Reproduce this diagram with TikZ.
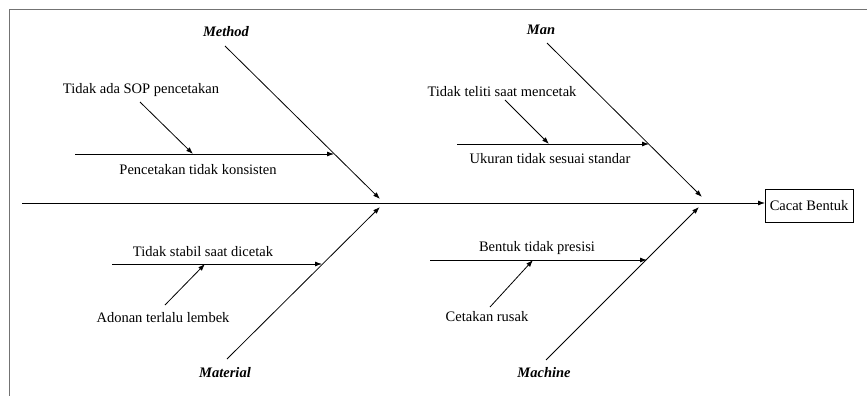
\documentclass[tikz,border=0pt]{standalone}
\usepackage{fontspec}
\setmainfont{Liberation Serif}
\usetikzlibrary{arrows.meta}
\begin{document}
\begin{tikzpicture}[x=1pt,y=-1pt,
  txt/.style={font=\fontsize{14.5}{16}\selectfont, inner sep=0pt, anchor=center},
  cat/.style={font=\fontsize{14.5}{16}\selectfont\bfseries\itshape, inner sep=0pt, anchor=center},
  ln/.style={line width=0.8pt},
  arr/.style={line width=0.8pt, -{Latex[length=7pt,width=5pt]}},
  frame/.style={line width=1.3pt, draw=black!55}]
\useasboundingbox (0,0) rectangle (867,396);
% frame
\draw[frame] (867,9.5) -- (9.5,9.5) -- (9.5,396);
% effect
\node[draw, line width=0.8pt, minimum width=88pt, minimum height=33pt, txt] (eff) at (809,206) {Cacat Bentuk};
\coordinate (sp0) at (22,203);
\coordinate (sp1) at (765,203);
\draw[arr] (sp0) -- (sp1);
% categories
\node[cat] (method) at (226,32) {Method};
\node[cat] (man) at (541,30) {Man};
\node[cat] (material) at (225,373) {Material};
\node[cat] (machine) at (544,373) {Machine};
\coordinate (me0) at (225,46); \coordinate (me1) at (380,199);
\coordinate (ma0) at (547,43); \coordinate (ma1) at (702,197);
\coordinate (mt0) at (227,359); \coordinate (mt1) at (380,207);
\coordinate (mc0) at (546,360); \coordinate (mc1) at (699,207);
\draw[arr] (me0) -- (me1);
\draw[arr] (ma0) -- (ma1);
\draw[arr] (mt0) -- (mt1);
\draw[arr] (mc0) -- (mc1);
% Method sub
\coordinate (p0) at (75,154); \coordinate (p1) at (334,154);
\draw[arr] (p0) -- (p1);
\node[txt] (pk) at (198,170) {Pencetakan tidak konsisten};
\node[txt] (sop) at (141,90) {Tidak ada SOP pencetakan};
\coordinate (s0) at (140,102); \coordinate (s1) at (193,154);
\draw[arr] (s0) -- (s1);
% Man sub
\coordinate (u0) at (457,144); \coordinate (u1) at (649,144);
\draw[arr] (u0) -- (u1);
\node[txt] (uk) at (550,159) {Ukuran tidak sesuai standar};
\node[txt] (tt) at (502,92) {Tidak teliti saat mencetak};
\coordinate (t0) at (505,100); \coordinate (t1) at (549,144);
\draw[arr] (t0) -- (t1);
% Material sub
\coordinate (ts0) at (112,264); \coordinate (ts1) at (322,264);
\draw[arr] (ts0) -- (ts1);
\node[txt] (tsl) at (203,252) {Tidak stabil saat dicetak};
\node[txt] (ad) at (163,318) {Adonan terlalu lembek};
\coordinate (a0) at (165,305); \coordinate (a1) at (205,264);
\draw[arr] (a0) -- (a1);
% Machine sub
\coordinate (b0) at (430,260); \coordinate (b1) at (647,260);
\draw[arr] (b0) -- (b1);
\node[txt] (btp) at (537,248) {Bentuk tidak presisi};
\node[txt] (cr) at (487,317) {Cetakan rusak};
\coordinate (c0) at (490,307); \coordinate (c1) at (533,260);
\draw[arr] (c0) -- (c1);
\end{tikzpicture}
\end{document}
